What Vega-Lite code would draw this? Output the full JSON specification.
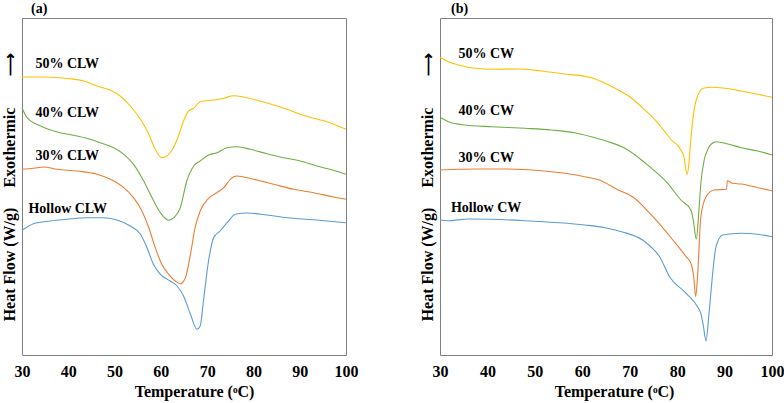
{
  "$schema": "https://vega.github.io/schema/vega-lite/v6.json",
  "background": "white",
  "padding": {"left": 0, "top": 1, "right": 0, "bottom": 5},
  "spacing": 59,
  "config": {
    "font": "Liberation Serif",
    "view": {"stroke": "#808080", "strokeWidth": 1},
    "axis": {
      "labelFont": "Liberation Serif",
      "titleFont": "Liberation Serif",
      "labelFontSize": 16,
      "labelFontWeight": "bold",
      "labelColor": "black",
      "labelFlush": false,
      "titleFontSize": 16,
      "titleFontWeight": "bold",
      "titleColor": "black",
      "grid": false,
      "ticks": false,
      "domain": false
    },
    "title": {
      "font": "Liberation Serif",
      "fontSize": 14,
      "fontWeight": "bold",
      "color": "black",
      "anchor": "start",
      "frame": "group",
      "offset": 2
    }
  },
  "datasets": {
    "clw": [
      {"s": "50% CLW", "T": 30, "V": 278}, {"s": "50% CLW", "T": 34.7, "V": 278}, {"s": "50% CLW", "T": 40.4, "V": 276.3},
      {"s": "50% CLW", "T": 43.3, "V": 274}, {"s": "50% CLW", "T": 46.2, "V": 269}, {"s": "50% CLW", "T": 49.1, "V": 264.7},
      {"s": "50% CLW", "T": 51.2, "V": 259}, {"s": "50% CLW", "T": 53.4, "V": 249}, {"s": "50% CLW", "T": 55.6, "V": 235.7},
      {"s": "50% CLW", "T": 57.4, "V": 220.7}, {"s": "50% CLW", "T": 58.8, "V": 205.7}, {"s": "50% CLW", "T": 60.2, "V": 197.3},
      {"s": "50% CLW", "T": 61.3, "V": 199}, {"s": "50% CLW", "T": 62.4, "V": 204.7}, {"s": "50% CLW", "T": 63.8, "V": 219},
      {"s": "50% CLW", "T": 64.9, "V": 234}, {"s": "50% CLW", "T": 66, "V": 244}, {"s": "50% CLW", "T": 67.1, "V": 246.7},
      {"s": "50% CLW", "T": 68.5, "V": 253.3}, {"s": "50% CLW", "T": 71.4, "V": 255}, {"s": "50% CLW", "T": 73.6, "V": 256.7},
      {"s": "50% CLW", "T": 75.7, "V": 259.3}, {"s": "50% CLW", "T": 77.9, "V": 258}, {"s": "50% CLW", "T": 80.8, "V": 254.7},
      {"s": "50% CLW", "T": 84.4, "V": 250}, {"s": "50% CLW", "T": 87.3, "V": 245.7}, {"s": "50% CLW", "T": 90.1, "V": 240.7},
      {"s": "50% CLW", "T": 93, "V": 236.7}, {"s": "50% CLW", "T": 95.9, "V": 233.3}, {"s": "50% CLW", "T": 100, "V": 225.7},

      {"s": "40% CLW", "T": 30, "V": 247.3}, {"s": "40% CLW", "T": 31.1, "V": 237.3}, {"s": "40% CLW", "T": 34, "V": 229},
      {"s": "40% CLW", "T": 37.6, "V": 223}, {"s": "40% CLW", "T": 40.8, "V": 220}, {"s": "40% CLW", "T": 44, "V": 216.7},
      {"s": "40% CLW", "T": 46.9, "V": 212.3}, {"s": "40% CLW", "T": 49.8, "V": 207.3}, {"s": "40% CLW", "T": 52, "V": 200.7},
      {"s": "40% CLW", "T": 54.1, "V": 190.7}, {"s": "40% CLW", "T": 56.3, "V": 174}, {"s": "40% CLW", "T": 58.1, "V": 157.3},
      {"s": "40% CLW", "T": 59.9, "V": 142.3}, {"s": "40% CLW", "T": 61.7, "V": 134.7}, {"s": "40% CLW", "T": 62.8, "V": 137.3},
      {"s": "40% CLW", "T": 64.2, "V": 147.3}, {"s": "40% CLW", "T": 65.6, "V": 174}, {"s": "40% CLW", "T": 67.1, "V": 189},
      {"s": "40% CLW", "T": 68.5, "V": 194}, {"s": "40% CLW", "T": 70.3, "V": 200}, {"s": "40% CLW", "T": 72.1, "V": 202.3},
      {"s": "40% CLW", "T": 74.3, "V": 207.3}, {"s": "40% CLW", "T": 76.4, "V": 208.3}, {"s": "40% CLW", "T": 79.3, "V": 205.7},
      {"s": "40% CLW", "T": 82.9, "V": 201.3}, {"s": "40% CLW", "T": 86.5, "V": 197.3}, {"s": "40% CLW", "T": 90.1, "V": 194},
      {"s": "40% CLW", "T": 93.7, "V": 189}, {"s": "40% CLW", "T": 97.3, "V": 184.7}, {"s": "40% CLW", "T": 100, "V": 180.7},

      {"s": "30% CLW", "T": 30, "V": 185.7}, {"s": "30% CLW", "T": 32.5, "V": 186.7}, {"s": "30% CLW", "T": 34.7, "V": 188},
      {"s": "30% CLW", "T": 37.6, "V": 185.7}, {"s": "30% CLW", "T": 41.9, "V": 184}, {"s": "30% CLW", "T": 46.2, "V": 180.7},
      {"s": "30% CLW", "T": 49.1, "V": 175.7}, {"s": "30% CLW", "T": 52, "V": 167.3}, {"s": "30% CLW", "T": 54.1, "V": 157.3},
      {"s": "30% CLW", "T": 55.9, "V": 144}, {"s": "30% CLW", "T": 57.4, "V": 127.3}, {"s": "30% CLW", "T": 58.8, "V": 107.3},
      {"s": "30% CLW", "T": 60.2, "V": 90.7}, {"s": "30% CLW", "T": 61.7, "V": 80.7}, {"s": "30% CLW", "T": 63.1, "V": 74},
      {"s": "30% CLW", "T": 64.2, "V": 71.3}, {"s": "30% CLW", "T": 65.3, "V": 77.3}, {"s": "30% CLW", "T": 66.4, "V": 100.7},
      {"s": "30% CLW", "T": 67.4, "V": 127.3}, {"s": "30% CLW", "T": 68.5, "V": 144}, {"s": "30% CLW", "T": 70.3, "V": 156.7},
      {"s": "30% CLW", "T": 72.1, "V": 162.3}, {"s": "30% CLW", "T": 73.6, "V": 167.3}, {"s": "30% CLW", "T": 75, "V": 175.7},
      {"s": "30% CLW", "T": 76.4, "V": 179}, {"s": "30% CLW", "T": 80, "V": 175.7}, {"s": "30% CLW", "T": 84.4, "V": 170.7},
      {"s": "30% CLW", "T": 88.7, "V": 165.7}, {"s": "30% CLW", "T": 93, "V": 162.3}, {"s": "30% CLW", "T": 97.3, "V": 158},
      {"s": "30% CLW", "T": 100, "V": 155.7},

      {"s": "Hollow CLW", "T": 30, "V": 124.7}, {"s": "Hollow CLW", "T": 32.5, "V": 131.3}, {"s": "Hollow CLW", "T": 36.1, "V": 134},
      {"s": "Hollow CLW", "T": 39.7, "V": 135.7}, {"s": "Hollow CLW", "T": 44, "V": 137.3}, {"s": "Hollow CLW", "T": 47.6, "V": 137.3},
      {"s": "Hollow CLW", "T": 50.5, "V": 135}, {"s": "Hollow CLW", "T": 53.4, "V": 129}, {"s": "Hollow CLW", "T": 55.6, "V": 120.7},
      {"s": "Hollow CLW", "T": 57, "V": 107.3}, {"s": "Hollow CLW", "T": 58.4, "V": 90.7}, {"s": "Hollow CLW", "T": 59.9, "V": 80.7},
      {"s": "Hollow CLW", "T": 62, "V": 74}, {"s": "Hollow CLW", "T": 63.5, "V": 69}, {"s": "Hollow CLW", "T": 64.9, "V": 59},
      {"s": "Hollow CLW", "T": 66.4, "V": 40.7}, {"s": "Hollow CLW", "T": 67.8, "V": 25.7}, {"s": "Hollow CLW", "T": 68.5, "V": 29},
      {"s": "Hollow CLW", "T": 69.2, "V": 54}, {"s": "Hollow CLW", "T": 70.3, "V": 94}, {"s": "Hollow CLW", "T": 71.4, "V": 117.3},
      {"s": "Hollow CLW", "T": 72.8, "V": 124}, {"s": "Hollow CLW", "T": 74.3, "V": 132.3}, {"s": "Hollow CLW", "T": 76.1, "V": 140.7},
      {"s": "Hollow CLW", "T": 78.6, "V": 142}, {"s": "Hollow CLW", "T": 82.9, "V": 140}, {"s": "Hollow CLW", "T": 87.3, "V": 137.3},
      {"s": "Hollow CLW", "T": 93, "V": 135.3}, {"s": "Hollow CLW", "T": 100, "V": 132.3}
    ],
    "cw": [
      {"s": "50% CW", "T": 30, "V": 297.7}, {"s": "50% CW", "T": 31.8, "V": 293.3}, {"s": "50% CW", "T": 33.9, "V": 290},
      {"s": "50% CW", "T": 37.4, "V": 286.7}, {"s": "50% CW", "T": 40.9, "V": 285.7}, {"s": "50% CW", "T": 46.5, "V": 286},
      {"s": "50% CW", "T": 51.4, "V": 284}, {"s": "50% CW", "T": 56.3, "V": 281}, {"s": "50% CW", "T": 61.9, "V": 277.3},
      {"s": "50% CW", "T": 64.1, "V": 273.3}, {"s": "50% CW", "T": 67.6, "V": 265}, {"s": "50% CW", "T": 70.4, "V": 256.7},
      {"s": "50% CW", "T": 73.2, "V": 245}, {"s": "50% CW", "T": 76, "V": 231.7}, {"s": "50% CW", "T": 78.8, "V": 215},
      {"s": "50% CW", "T": 80.8, "V": 205}, {"s": "50% CW", "T": 81.5, "V": 197}, {"s": "50% CW", "T": 81.8, "V": 186},
      {"s": "50% CW", "T": 82.1, "V": 180.7}, {"s": "50% CW", "T": 82.4, "V": 188}, {"s": "50% CW", "T": 82.6, "V": 198.3},
      {"s": "50% CW", "T": 83, "V": 221.7}, {"s": "50% CW", "T": 83.7, "V": 248.3}, {"s": "50% CW", "T": 84.4, "V": 260},
      {"s": "50% CW", "T": 85.5, "V": 266.7}, {"s": "50% CW", "T": 87.2, "V": 267.7}, {"s": "50% CW", "T": 90, "V": 266.7},
      {"s": "50% CW", "T": 93.5, "V": 264}, {"s": "50% CW", "T": 97, "V": 260.7}, {"s": "50% CW", "T": 100, "V": 257.7},

      {"s": "40% CW", "T": 30, "V": 237.7}, {"s": "40% CW", "T": 31.8, "V": 233.3}, {"s": "40% CW", "T": 35.3, "V": 230},
      {"s": "40% CW", "T": 40.9, "V": 228.3}, {"s": "40% CW", "T": 47.9, "V": 226.7}, {"s": "40% CW", "T": 53.5, "V": 225},
      {"s": "40% CW", "T": 58.4, "V": 222.3}, {"s": "40% CW", "T": 61.9, "V": 218.3}, {"s": "40% CW", "T": 65.5, "V": 213.3},
      {"s": "40% CW", "T": 69, "V": 206.7}, {"s": "40% CW", "T": 72.5, "V": 195}, {"s": "40% CW", "T": 74.2, "V": 188.3},
      {"s": "40% CW", "T": 77.7, "V": 173.3}, {"s": "40% CW", "T": 80.8, "V": 155}, {"s": "40% CW", "T": 82.9, "V": 145},
      {"s": "40% CW", "T": 83.4, "V": 135}, {"s": "40% CW", "T": 84.05, "V": 115.7}, {"s": "40% CW", "T": 84.5, "V": 138.3},
      {"s": "40% CW", "T": 85, "V": 171.7}, {"s": "40% CW", "T": 85.7, "V": 195}, {"s": "40% CW", "T": 86.4, "V": 205},
      {"s": "40% CW", "T": 87.2, "V": 211}, {"s": "40% CW", "T": 88.3, "V": 213.3}, {"s": "40% CW", "T": 90.7, "V": 211},
      {"s": "40% CW", "T": 93.5, "V": 207.3}, {"s": "40% CW", "T": 97, "V": 204}, {"s": "40% CW", "T": 100, "V": 200},

      {"s": "30% CW", "T": 30, "V": 185}, {"s": "30% CW", "T": 33.9, "V": 185.7}, {"s": "30% CW", "T": 37.4, "V": 186},
      {"s": "30% CW", "T": 44.4, "V": 186}, {"s": "30% CW", "T": 51.4, "V": 184.3}, {"s": "30% CW", "T": 56.3, "V": 181.7},
      {"s": "30% CW", "T": 60.5, "V": 178.3}, {"s": "30% CW", "T": 63.6, "V": 175}, {"s": "30% CW", "T": 67.6, "V": 165},
      {"s": "30% CW", "T": 70.6, "V": 158.3}, {"s": "30% CW", "T": 74.9, "V": 138.3}, {"s": "30% CW", "T": 79.1, "V": 115},
      {"s": "30% CW", "T": 81.9, "V": 98.3}, {"s": "30% CW", "T": 82.9, "V": 91.7}, {"s": "30% CW", "T": 83.5, "V": 78.3},
      {"s": "30% CW", "T": 83.9, "V": 58.3}, {"s": "30% CW", "T": 84.3, "V": 78.3}, {"s": "30% CW", "T": 85, "V": 138.3},
      {"s": "30% CW", "T": 86.1, "V": 158.3}, {"s": "30% CW", "T": 87.8, "V": 165}, {"s": "30% CW", "T": 90.4, "V": 165.7},
      {"s": "30% CW", "T": 90.6, "V": 174.3}, {"s": "30% CW", "T": 91.7, "V": 171.7}, {"s": "30% CW", "T": 93.5, "V": 171},
      {"s": "30% CW", "T": 97, "V": 167.3}, {"s": "30% CW", "T": 100, "V": 164.3},

      {"s": "Hollow CW", "T": 30, "V": 135}, {"s": "Hollow CW", "T": 31.8, "V": 134.3}, {"s": "Hollow CW", "T": 36, "V": 136},
      {"s": "Hollow CW", "T": 40.9, "V": 135.7}, {"s": "Hollow CW", "T": 47.9, "V": 134.3}, {"s": "Hollow CW", "T": 54.9, "V": 132.3},
      {"s": "Hollow CW", "T": 60.5, "V": 130}, {"s": "Hollow CW", "T": 64.8, "V": 127.3}, {"s": "Hollow CW", "T": 68.3, "V": 123.3},
      {"s": "Hollow CW", "T": 72.7, "V": 115}, {"s": "Hollow CW", "T": 74.5, "V": 108}, {"s": "Hollow CW", "T": 76.3, "V": 98.3},
      {"s": "Hollow CW", "T": 78.4, "V": 78.3}, {"s": "Hollow CW", "T": 81.9, "V": 61.7}, {"s": "Hollow CW", "T": 84.3, "V": 48.3},
      {"s": "Hollow CW", "T": 85, "V": 41.7}, {"s": "Hollow CW", "T": 85.5, "V": 30}, {"s": "Hollow CW", "T": 86.1, "V": 14},
      {"s": "Hollow CW", "T": 86.6, "V": 35}, {"s": "Hollow CW", "T": 87.1, "V": 61.7}, {"s": "Hollow CW", "T": 88.2, "V": 108.3},
      {"s": "Hollow CW", "T": 89.6, "V": 120}, {"s": "Hollow CW", "T": 93.5, "V": 121.7}, {"s": "Hollow CW", "T": 97, "V": 120.7},
      {"s": "Hollow CW", "T": 100, "V": 118.3}
    ],
    "clwLabels": [
      {"s": "50% CLW", "T": 32.9, "V": 291.3},
      {"s": "40% CLW", "T": 32.9, "V": 242},
      {"s": "30% CLW", "T": 32.9, "V": 199},
      {"s": "Hollow CLW", "T": 31.4, "V": 145.7}
    ],
    "cwLabels": [
      {"s": "50% CW", "T": 33.9, "V": 300.7},
      {"s": "40% CW", "T": 33.9, "V": 244},
      {"s": "30% CW", "T": 33.9, "V": 196.7},
      {"s": "Hollow CW", "T": 32.3, "V": 146.7}
    ]
  },
  "resolve": {"scale": {"color": "independent"}},
  "hconcat": [
    {
      "title": {"text": "(a)", "dx": 9},
      "width": 324,
      "height": 337,
      "encoding": {
        "x": {
          "field": "T", "type": "quantitative",
          "scale": {"domain": [30, 100], "nice": false},
          "axis": {"values": [30, 40, 50, 60, 70, 80, 90, 100], "labelPadding": 8, "titlePadding": 4, "titleX": 172, "title": "Temperature (ᵒC)"}
        },
        "y": {
          "field": "V", "type": "quantitative",
          "scale": {"domain": [0, 337], "nice": false},
          "axis": {"labels": false, "titlePadding": 5, "title": "Heat Flow (W/g)\u00a0\u00a0\u00a0\u00a0\u00a0Exothermic\u00a0\u00a0\u00a0\u00a0\u00a0\u00a0\u00a0\u00a0⟶"}
        }
      },
      "layer": [
        {
          "data": {"name": "clw"},
          "mark": {"type": "line", "strokeWidth": 1.1, "interpolate": "monotone"},
          "encoding": {
            "color": {
              "field": "s", "type": "nominal", "legend": null,
              "scale": {"domain": ["50% CLW", "40% CLW", "30% CLW", "Hollow CLW"], "range": ["#FFC000", "#70AD47", "#ED7D31", "#5B9BD5"]}
            }
          }
        },
        {
          "data": {"name": "clwLabels"},
          "mark": {"type": "text", "align": "left", "baseline": "middle", "fontSize": 14, "fontWeight": "bold", "font": "Liberation Serif", "color": "black"},
          "encoding": {"text": {"field": "s"}}
        }
      ]
    },
    {
      "title": {"text": "(b)", "dx": 11},
      "width": 332,
      "height": 337,
      "encoding": {
        "x": {
          "field": "T", "type": "quantitative",
          "scale": {"domain": [30, 100], "nice": false},
          "axis": {"values": [30, 40, 50, 60, 70, 80, 90, 100], "labelPadding": 8, "titlePadding": 4, "titleX": 174, "title": "Temperature (ᵒC)"}
        },
        "y": {
          "field": "V", "type": "quantitative",
          "scale": {"domain": [0, 337], "nice": false},
          "axis": {"labels": false, "titlePadding": 5, "title": "Heat Flow (W/g)\u00a0\u00a0\u00a0\u00a0\u00a0Exothermic\u00a0\u00a0\u00a0\u00a0\u00a0\u00a0\u00a0\u00a0⟶"}
        }
      },
      "layer": [
        {
          "data": {"name": "cw"},
          "mark": {"type": "line", "strokeWidth": 1.1, "interpolate": "monotone"},
          "encoding": {
            "color": {
              "field": "s", "type": "nominal", "legend": null,
              "scale": {"domain": ["50% CW", "40% CW", "30% CW", "Hollow CW"], "range": ["#FFC000", "#70AD47", "#ED7D31", "#5B9BD5"]}
            }
          }
        },
        {
          "data": {"name": "cwLabels"},
          "mark": {"type": "text", "align": "left", "baseline": "middle", "fontSize": 14, "fontWeight": "bold", "font": "Liberation Serif", "color": "black"},
          "encoding": {"text": {"field": "s"}}
        }
      ]
    }
  ]
}
